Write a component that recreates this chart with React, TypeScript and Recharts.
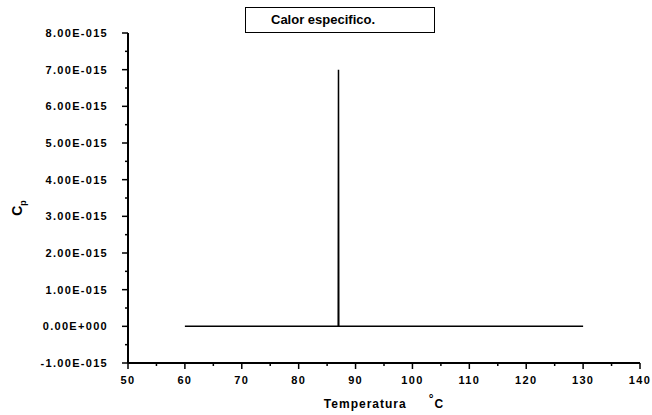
import { LineChart, Line, XAxis, YAxis } from 'recharts';

// temperatura (°C) y calor especifico
const temperatura = [60, 86.95, 87, 87.05, 130];
const calorEspecifico = [0, 0, 7e-15, 0, 0];

const xMajor = [50, 60, 70, 80, 90, 100, 110, 120, 130, 140];
const yMajor = [-1e-15, 0, 1e-15, 2e-15, 3e-15, 4e-15, 5e-15, 6e-15, 7e-15, 8e-15];
const yLabels = [
    '-1.00E-015', '0.00E+000', '1.00E-015', '2.00E-015', '3.00E-015',
    '4.00E-015', '5.00E-015', '6.00E-015', '7.00E-015', '8.00E-015',
];

const data = temperatura.map((t, i) => ({ t, cp: calorEspecifico[i] }));

// minor ticks halfway between the majors
const xTicks = xMajor.flatMap((v, i) => (i < xMajor.length - 1 ? [v, v + 5] : [v]));
const yTicks = yMajor.flatMap((v, i) => (i < yMajor.length - 1 ? [v, v + 0.5e-15] : [v]));

const font = { fontFamily: '"Liberation Sans", Arial, sans-serif', fontWeight: 700 };

function YTick(props: any) {
    const { x, y, payload } = props;
    const idx = yMajor.findIndex((m) => Math.abs(m - payload.value) < 1e-20);
    if (idx < 0) {
        return <line x1={x - 3} x2={x} y1={y} y2={y} stroke="#000" strokeWidth={1.5} />;
    }
    return (
        <g>
            <line x1={x - 6} x2={x} y1={y} y2={y} stroke="#000" strokeWidth={1.5} />
            <text x={x - 20} y={y + 4} textAnchor="end" fontSize={11} letterSpacing={1.3} fill="#000" style={font}>
                {yLabels[idx]}
            </text>
        </g>
    );
}

function XTick(props: any) {
    const { x, y, payload } = props;
    const major = xMajor.includes(payload.value);
    if (!major) {
        return <line x1={x} x2={x} y1={y} y2={y + 3} stroke="#000" strokeWidth={1.5} />;
    }
    return (
        <g>
            <line x1={x} x2={x} y1={y} y2={y + 6} stroke="#000" strokeWidth={1.5} />
            <text x={x} y={y + 21} textAnchor="middle" fontSize={11} letterSpacing={1.3} fill="#000" style={font}>
                {payload.value}
            </text>
        </g>
    );
}

export default function App() {
    return (
        <div style={{ position: 'absolute', left: 0, top: 0, width: 652, height: 415, background: '#fff' }}>
            <div
                style={{
                    position: 'absolute',
                    left: 245,
                    top: 7,
                    width: 190,
                    height: 26,
                    border: '1px solid #000',
                    ...font,
                    fontSize: 13,
                    lineHeight: '24px',
                    paddingLeft: 25,
                    boxSizing: 'border-box',
                }}
            >
                Calor especifico.
            </div>
            <LineChart width={652} height={415} data={data} margin={{ top: 33, right: 12, bottom: 0, left: 0 }}>
                <XAxis
                    dataKey="t"
                    type="number"
                    domain={[50, 140]}
                    ticks={xTicks}
                    interval={0}
                    height={52}
                    tickSize={0}
                    tickMargin={0}
                    tickLine={false}
                    tick={<XTick />}
                    axisLine={{ stroke: '#000', strokeWidth: 2 }}
                    label={({ viewBox }: any) => (
                        <text x={viewBox.x + viewBox.width / 2} y={408} textAnchor="middle" fontSize={12} fill="#000" style={font} letterSpacing={1}>
                            <tspan>Temperatura</tspan>
                            <tspan dx={22} dy={-5}>°</tspan>
                            <tspan dy={5}>C</tspan>
                        </text>
                    )}
                />
                <YAxis
                    type="number"
                    domain={[-1e-15, 8e-15]}
                    ticks={yTicks}
                    interval={0}
                    width={128}
                    tickSize={0}
                    tickMargin={0}
                    tickLine={false}
                    tick={<YTick />}
                    axisLine={{ stroke: '#000', strokeWidth: 2 }}
                    label={() => (
                        <text x={22} y={208} transform="rotate(-90 22 208)" textAnchor="middle" fontSize={14} fill="#000" style={font}>
                            C<tspan fontSize={9} dy={4}>p</tspan>
                        </text>
                    )}
                />
                <Line
                    dataKey="cp"
                    type="linear"
                    stroke="#000"
                    strokeWidth={1.5}
                    dot={false}
                    isAnimationActive={false}
                />
            </LineChart>
        </div>
    );
}
